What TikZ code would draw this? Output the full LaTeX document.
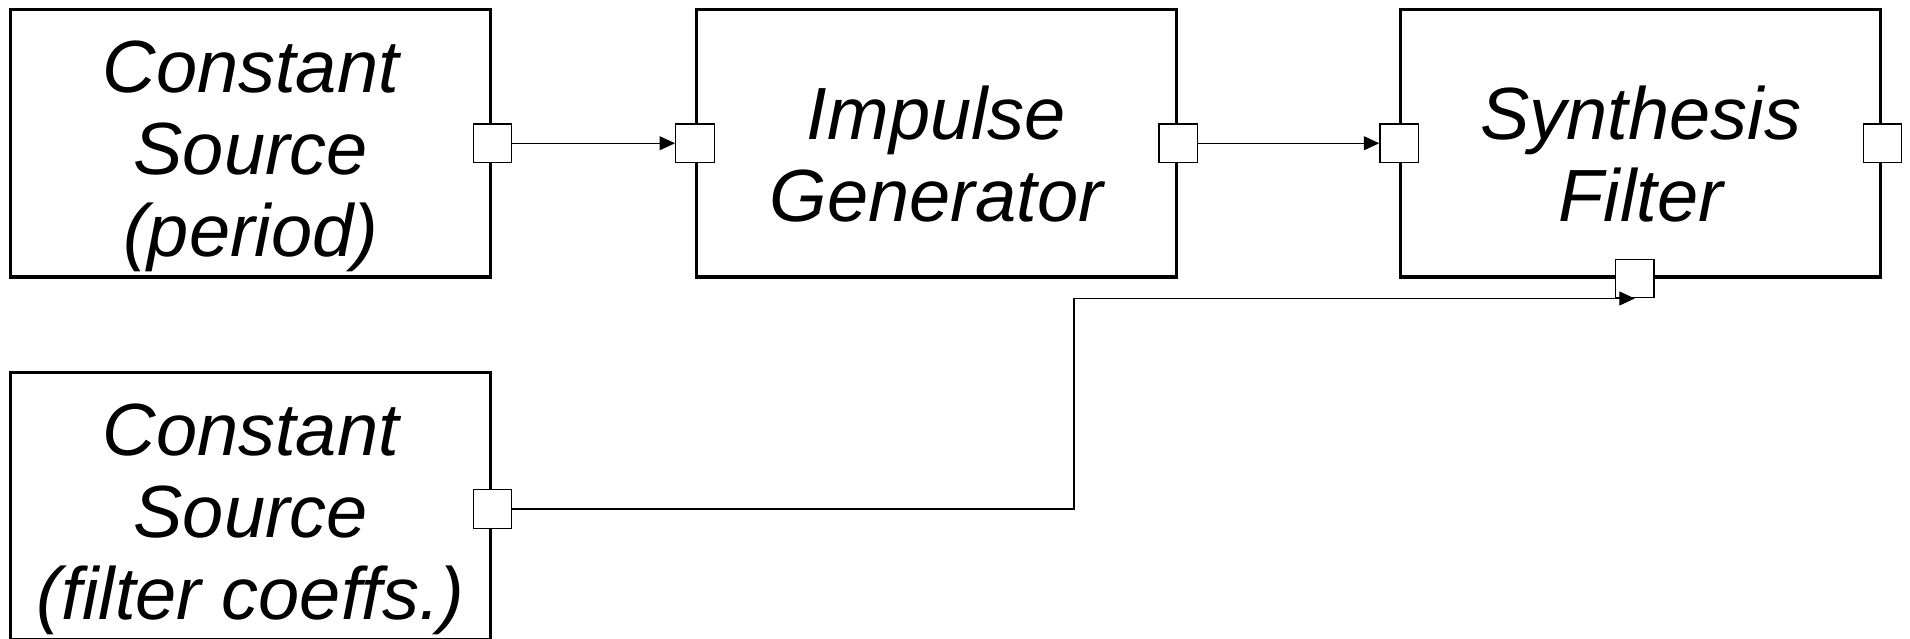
\documentclass[tikz,border=0pt]{standalone}
\usepackage{fontspec}
\setmainfont{Liberation Sans}
\usetikzlibrary{arrows.meta}

\begin{document}
\begin{tikzpicture}[
    block/.style={draw, line width=0.065cm, minimum width=9.6cm, minimum height=5.35cm, inner sep=0pt},
    port/.style={draw, fill=white, line width=0.025cm, minimum size=0.77cm, inner sep=0pt},
    lbl/.style={align=center, inner sep=0pt, font=\itshape\fontsize{42.1pt}{46.7pt}\selectfont},
    wire/.style={line width=0.025cm, -{Triangle[length=0.31cm, width=0.28cm]}}
]
    \useasboundingbox (0,0) rectangle (38.2,12.76);

    % 上排
    \node[block] (src1) at (5.015,9.895) {};
    \node[block] (gen) at (18.73,9.895) {};
    \node[block] (filt) at (32.815,9.895) {};
    % 下排
    \node[block] (src2) at (5.015,2.64) {};

    % 文字
    \node[lbl] (src1 txt) at ([yshift=-0.27cm]src1.center) {Constant\\Source\\(period)};
    \node[lbl] (gen txt) at ([yshift=-0.225cm]gen.center) {Impulse\\Generator};
    \node[lbl] (filt txt) at ([yshift=-0.225cm]filt.center) {Synthesis\\Filter};
    \node[lbl] (src2 txt) at ([yshift=-0.27cm]src2.center) {Constant\\Source\\(filter coeffs.)};

    % 端口
    \node[port] (src1 out) at (src1.east) {};
    \node[port] (gen in) at (gen.west) {};
    \node[port] (gen out) at (gen.east) {};
    \node[port] (filt in) at (filt.west) {};
    \node[port] (filt out) at (filt.east) {};
    \node[port] (filt ctl) at ([xshift=-0.12cm]filt.south) {};
    \node[port] (src2 out) at ([yshift=-0.06cm]src2.east) {};

    % 连线
    \draw[wire] (src1 out) -- (gen in);
    \draw[wire] (gen out) -- (filt in);
    \coordinate (bend) at (21.48,0);
    \draw[wire] (src2 out) -| (bend |- filt ctl.south) -- (filt ctl.south);
\end{tikzpicture}
\end{document}
